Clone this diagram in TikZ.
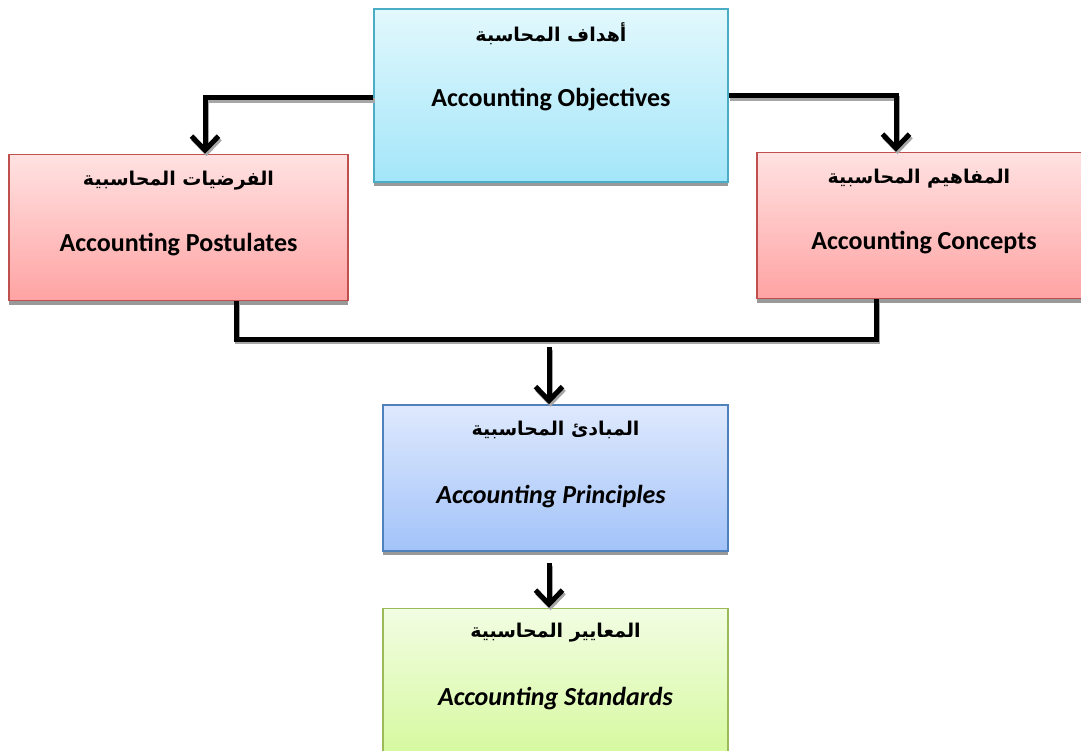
\documentclass[tikz,border=0pt]{standalone}
\usepackage{fontspec}
\setmainfont{Carlito}
\newfontfamily\arfont[Script=Arabic]{DejaVu Sans}
\TeXXeTstate=1
\usetikzlibrary{positioning,shadows,arrows.meta}

\definecolor{aquaTop}{HTML}{E2F8FD}
\definecolor{aquaBot}{HTML}{A3E6F9}
\definecolor{aquaLine}{HTML}{4BACC6}
\definecolor{redTop}{HTML}{FFE2E2}
\definecolor{redBot}{HTML}{FFA3A3}
\definecolor{redLine}{HTML}{C0504D}
\definecolor{blueTop}{HTML}{DEE9FD}
\definecolor{blueBot}{HTML}{A3C3F9}
\definecolor{blueLine}{HTML}{4F81BD}
\definecolor{greenTop}{HTML}{F2FDE3}
\definecolor{greenBot}{HTML}{D6F99F}
\definecolor{greenLine}{HTML}{9BBB59}

\begin{document}
\begin{tikzpicture}[x=1pt,y=-1pt,
  box/.style={rectangle,line width=1.5pt,minimum height=146pt,
    drop shadow={shadow xshift=0pt,shadow yshift=-4pt,fill=black!40,opacity=1}},
  objbox/.style={box,draw=aquaLine,top color=aquaTop,bottom color=aquaBot,
    minimum width=354pt,minimum height=173pt},
  redbox/.style={box,draw=redLine,top color=redTop,bottom color=redBot,minimum width=339pt},
  bluebox/.style={box,draw=blueLine,top color=blueTop,bottom color=blueBot,minimum width=345pt},
  greenbox/.style={box,draw=greenLine,top color=greenTop,bottom color=greenBot,minimum width=345pt},
  artxt/.style={font=\arfont\bfseries\fontsize{19}{23}\selectfont,inner sep=0pt},
  entxt/.style={font=\bfseries\fontsize{26}{30}\selectfont,inner sep=0pt},
  link/.style={line width=5pt,line join=miter},
  arrow/.style={link,-{Straight Barb[length=14pt,width=27pt]}}]

  \useasboundingbox (0,0) rectangle (1081,751);
  \clip (0,0) rectangle (1081,751);

  % boxes
  \node[objbox] (obj) at (551,95.5) {};
  \node[redbox] (post) at (178.5,227.5) {};
  \node[redbox] (conc) at (926.5,225.5) {};
  \node[bluebox] (princ) at (555.5,478) {};
  \node[greenbox] (stand) [below=56pt of princ] {};

  % texts
  \node[artxt] (objAr) at ([yshift=-25pt]obj.north) {\beginR أهداف المحاسبة\endR};
  \node[entxt] (objEn) at ([yshift=-91pt]obj.north) {Accounting Objectives};
  \node[artxt] (postAr) at ([yshift=-27pt]post.north) {\beginR الفرضيات المحاسبية\endR};
  \node[entxt] (postEn) at ([yshift=-91pt]post.north) {Accounting Postulates};
  \node[artxt] (concAr) at ([yshift=-27pt]conc.north -| 919,0) {\beginR المفاهيم المحاسبية\endR};
  \node[entxt] (concEn) at ([yshift=-91pt]conc.north -| 924,0) {Accounting Concepts};
  \node[artxt] (princAr) at ([yshift=-26pt]princ.north) {\beginR المبادئ المحاسبية\endR};
  \node[entxt] (princEn) at ([yshift=-92pt]princ.north -| 551,0) {\itshape Accounting Principles};
  \node[artxt] (standAr) at ([yshift=-25pt]stand.north) {\beginR المعايير المحاسبية\endR};
  \node[entxt] (standEn) at ([yshift=-91pt]stand.north) {\itshape Accounting Standards};

  % connectors, first their grey shadow, then the black line
  \coordinate (join) at (549,347);
  \coordinate (joinB) at (549,563);
  \foreach \col/\dx/\dy in {black!35/1.5/-2.5, black/0/0} {
    \begin{scope}[draw=\col,transform canvas={shift={(\dx pt,\dy pt)}}]
      \draw[arrow] (obj.west |- 0,98) -| (205,0 |- post.north);
      \draw[arrow] (obj.east |- 0,96) -| (896,0 |- conc.north);
      \draw[link] (236,0 |- post.south) |- (876,339) -- (876,0 |- conc.south);
      \draw[arrow] (join) -- (join |- princ.north);
      \draw[arrow] (joinB) -- (joinB |- stand.north);
    \end{scope}
  }
\end{tikzpicture}
\end{document}
